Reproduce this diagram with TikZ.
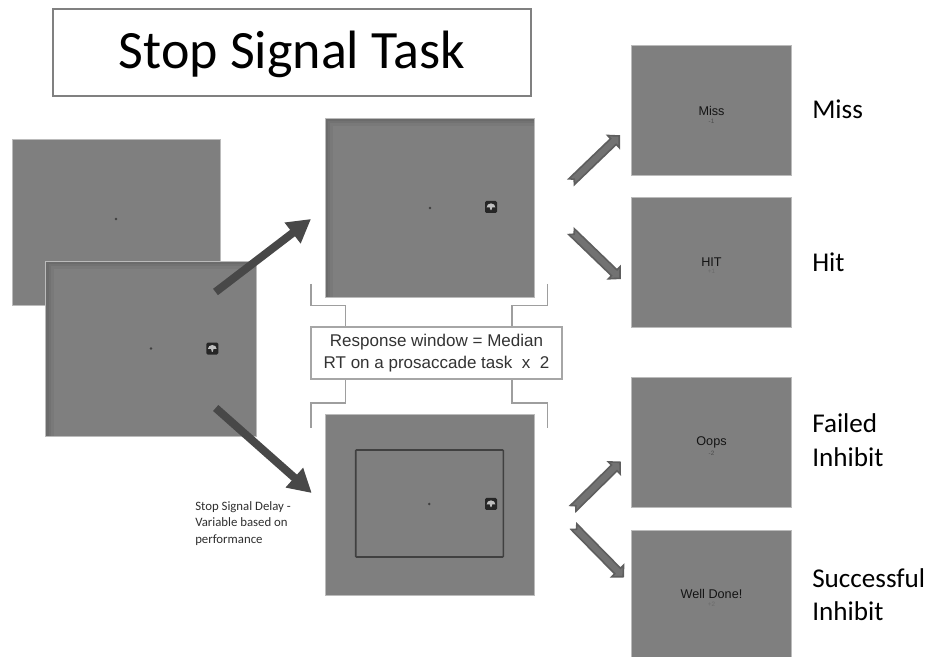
\documentclass[tikz,border=0pt]{standalone}
\usepackage{fontspec}
\setmainfont{Carlito}
\newfontfamily\arialfont{Liberation Sans}
\usetikzlibrary{arrows.meta}
\usetikzlibrary{calc}

\definecolor{screengray}{HTML}{7F7F7F}
\definecolor{screenedge}{HTML}{BBBBBB}
\definecolor{boldarrow}{HTML}{484848}
\definecolor{smallfill}{HTML}{727272}
\definecolor{smalledge}{HTML}{5E5E5E}

\tikzset{
  screen/.style={rectangle,fill=screengray,draw=screenedge,line width=0.02cm,inner sep=0pt,outer sep=0pt},
  screeninset/.style={screen,path picture={
    \fill[black!5!screengray] (path picture bounding box.north west) rectangle ([xshift=0.2cm]path picture bounding box.south west);
    \fill[black!5!screengray] (path picture bounding box.north west) rectangle ([yshift=-0.2cm]path picture bounding box.north east);
    \fill[black!10!screengray] (path picture bounding box.north west) rectangle ([xshift=0.13cm]path picture bounding box.south west);
    \fill[black!10!screengray] (path picture bounding box.north west) rectangle ([yshift=-0.13cm]path picture bounding box.north east);
    \fill[black!16!screengray] (path picture bounding box.north west) rectangle ([xshift=0.07cm]path picture bounding box.south west);
    \fill[black!16!screengray] (path picture bounding box.north west) rectangle ([yshift=-0.07cm]path picture bounding box.north east);
  }},
  fixdot/.style={circle,fill=black!75,inner sep=0pt,minimum size=0.07cm},
  bracketline/.style={draw=black!38,line width=0.035cm},
  boldline/.style={draw=boldarrow,line width=0.2cm,-{Triangle[length=0.58cm,width=0.62cm]}},
  smallline/.style={draw=smalledge,fill=smallfill,line width=0.04cm,line join=miter},
  stimtext/.style={font=\arialfont\fontsize{9}{9}\selectfont,text=black!92,inner sep=0pt},
  scoretext/.style={font=\arialfont\fontsize{4.5}{4.5}\selectfont,inner sep=0pt},
  sidelabel/.style={font=\fontsize{19.3}{23.5}\selectfont,text=black,align=left,anchor=west,inner sep=0pt},
  stimicon/.pic={
    \fill[rounded corners=1pt,black!85] (-0.15,-0.15) rectangle (0.15,0.15);
    \fill[black!25] (-0.11,-0.01) arc (180:0:0.11 and 0.1) -- (0.03,-0.01) -- (0.01,-0.08) -- (-0.01,-0.08) -- (-0.03,-0.01) -- cycle;
  }
}

% notched block arrow between two named coordinates
\newcommand{\notcharrow}[2]{
\draw[smallline] ($(#1)!0.09cm!(#2)$) -- ($(#1)!0.1cm!90:(#2)$) -- ($(#2)!0.2cm!(#1)!0.1cm!-90:(#1)$) -- ($(#2)!0.2cm!(#1)!0.21cm!-90:(#1)$) -- (#2) -- ($(#2)!0.2cm!(#1)!0.21cm!90:(#1)$) -- ($(#2)!0.2cm!(#1)!0.1cm!90:(#1)$) -- ($(#1)!0.1cm!-90:(#2)$) -- cycle;
}

\begin{document}
\begin{tikzpicture}
\useasboundingbox (0,0) rectangle (23.175,16.425);

\node[rectangle,draw=black!50,line width=0.05cm,minimum width=11.95cm,minimum height=2.175cm,inner sep=0pt,text=black] (title) at (7.3,15.1125) {\raisebox{-0.39cm}[0pt][0pt]{\fontsize{38.4}{38.4}\selectfont Stop Signal Task}};

\node[screen,minimum width=5.22cm,minimum height=4.15cm] (blank) at (2.91,10.875) {};
\node[fixdot] (blankdot) at (2.9,10.95) {};
\node[screeninset,minimum width=5.275cm,minimum height=4.375cm] (cue) at (3.78,7.7125) {};
\node[fixdot] (cuedot) at (3.775,7.71) {};
\pic at (5.3075,7.71) {stimicon};

\node[screeninset,minimum width=5.225cm,minimum height=4.49cm] (go) at (10.7375,11.229) {};
\node[fixdot] (godot) at (10.75,11.225) {};
\pic at (12.275,11.25) {stimicon};

\node[screen,minimum width=5.225cm,minimum height=4.525cm] (stop) at (10.7375,3.8125) {};
\node[rectangle,draw=black!75,line width=0.04cm,minimum width=3.69cm,minimum height=2.675cm,inner sep=0pt,rounded corners=0.5pt] (stopframe) at (10.7375,3.8375) {};
\node[fixdot] (stopdot) at (10.7325,3.825) {};
\pic at (12.275,3.825) {stimicon};

\node[screen,minimum width=4.01cm,minimum height=3.25cm] (miss) at (17.7875,13.675) {};
\node[stimtext] (misstext) at (17.7875,13.65) {Miss};
\node[scoretext,text=black!70] (missscore) at (17.7875,13.4) {-1};
\node[screen,minimum width=4.01cm,minimum height=3.25cm] (hit) at (17.7875,9.875) {};
\node[stimtext] (hittext) at (17.7875,9.875) {HIT};
\node[scoretext,text=black!58] (hitscore) at (17.7875,9.63) {+1};
\node[screen,minimum width=4.01cm,minimum height=3.25cm] (oops) at (17.7875,5.375) {};
\node[stimtext] (oopstext) at (17.7875,5.355) {Oops};
\node[scoretext,text=black!70] (oopsscore) at (17.7875,5.105) {-2};
\node[screen,minimum width=4.01cm,minimum height=3.175cm] (well) at (17.7875,1.5875) {};
\node[stimtext] (welltext) at (17.7875,1.5675) {Well Done!};
\node[scoretext,text=black!58] (wellscore) at (17.7875,1.315) {+2};

\node[sidelabel] (misslabel) at (20.3,13.7) {Miss};
\node[sidelabel] (hitlabel) at (20.3,9.88) {Hit};
\node[sidelabel] (oopslabel) at (20.3,5.42) {Failed\\Inhibit};
\node[sidelabel] (welllabel) at (20.3,1.55) {Successful\\Inhibit};

\node[rectangle,draw=black!35,line width=0.04cm,fill=white,minimum width=6.275cm,minimum height=1.3cm,inner sep=0pt,align=center,font=\arialfont\fontsize{12.1}{16}\selectfont,text=black!80] (respbox) at (10.9125,7.6) {Response window = Median\\RT on a prosaccade task\ \ x\ \ 2};

\coordinate (bracktl) at (7.775,9.325);
\coordinate (bracktr) at (13.6925,9.325);
\coordinate (brackbl) at (7.775,5.725);
\coordinate (brackbr) at (13.6925,5.725);
\draw[bracketline] (bracktl) -- ++(0,-0.5375) -| ($(respbox.north west)+(0.875,0)$);
\draw[bracketline] (bracktr) -- ++(0,-0.5375) -| ($(respbox.north east)+(-1.275,0)$);
\draw[bracketline] (brackbl) -- ++(0,0.625) -| ($(respbox.south west)+(0.875,0)$);
\draw[bracketline] (brackbr) -- ++(0,0.625) -| ($(respbox.south east)+(-1.275,0)$);

\coordinate (boldatail) at (5.3875,9.125);
\coordinate (boldatip) at (7.775,10.95);
\coordinate (boldbtail) at (5.3925,6.225);
\coordinate (boldbtip) at (7.7925,4.1);
\draw[boldline] (boldatail) -- (boldatip);
\draw[boldline] (boldbtail) -- (boldbtip);

\coordinate (misstail) at (14.29,11.8825);
\coordinate (misstip) at (15.48,13.025);
\coordinate (hittail) at (14.29,10.6325);
\coordinate (hittip) at (15.5,9.4675);
\coordinate (oopstail) at (14.33,3.7175);
\coordinate (oopstip) at (15.5,4.8675);
\coordinate (welltail) at (14.35,3.2575);
\coordinate (welltip) at (15.58,2.0075);
\notcharrow{misstail}{misstip}
\notcharrow{hittail}{hittip}
\notcharrow{oopstail}{oopstip}
\notcharrow{welltail}{welltip}

\node[font=\fontsize{9.1}{11.6}\selectfont,text=black!82,align=left,anchor=north west,inner sep=0pt] (delaytext) at (4.875,3.89) {Stop Signal Delay -\\Variable based on\\performance};

\end{tikzpicture}
\end{document}
